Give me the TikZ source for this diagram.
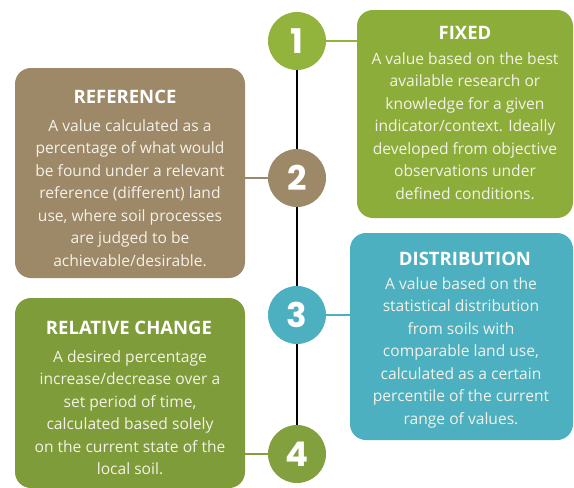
\documentclass[tikz,border=0pt]{standalone}
\usepackage{fontspec}
\setmainfont{Open Sans}
\newfontfamily\numfont{Poppins}
\definecolor{gfix}{HTML}{8DAD3B}
\definecolor{gfixc}{HTML}{93B43C}
\definecolor{brref}{HTML}{9D8867}
\definecolor{tdist}{HTML}{4CB0C0}
\definecolor{grel}{HTML}{7F9C3A}
\definecolor{grelc}{HTML}{82A03E}
\definecolor{cream}{HTML}{F4F2E8}
\tikzset{
  box/.style={rounded corners=16pt, draw=none, inner sep=0pt},
  numc/.style={circle, minimum size=58pt, inner sep=0pt, text=white, font=\numfont\fontsize{34}{34}\selectfont\bfseries},
  ttl/.style={text=white, font=\fontsize{18.5}{20}\selectfont\bfseries, inner sep=0pt},
  body/.style={text=cream, align=center, anchor=north, inner sep=0pt, font=\fontsize{15.6}{22.5}\selectfont},
  conn/.style={line width=2pt},
  spine/.style={line width=1.6pt, black}
}
\begin{document}
\begin{tikzpicture}[x=1pt,y=-1pt]
\useasboundingbox[fill=white] (0,0) rectangle (574,488);
% boxes
\node[box, fill=gfix, minimum width=216pt, minimum height=208pt] (b1) at (465,114) {};
\node[box, fill=brref, minimum width=230pt, minimum height=210pt] (b2) at (130,173) {};
\node[box, fill=tdist, minimum width=223pt, minimum height=207pt] (b3) at (461.5,336.5) {};
\node[box, fill=grel, minimum width=230pt, minimum height=190pt] (b4) at (130,393) {};
% circles
\node[numc, fill=gfixc] (c1) at (297,41) {1};
\node[numc, fill=brref] (c2) at (297,178) {2};
\node[numc, fill=tdist] (c3) at (297,315) {3};
\node[numc, fill=grelc] (c4) at (297,454) {4};
% spine
\draw[spine] (c1.south) -- (c2.north);
\draw[spine] (c2.south) -- (c3.north);
\draw[spine] (c3.south) -- (c4.north);
% connectors
\draw[conn, gfixc] (c1.east) -- (c1.east -| b1.west);
\draw[conn, brref] (c2.west) -- (c2.west -| b2.east);
\draw[conn, tdist] (c3.east) -- (c3.east -| b3.west);
\draw[conn, grelc] (c4.west) -- (c4.west -| b4.east);
% texts
\node[ttl] (t1) at (465,33) {FIXED};
\node[body] (d1) at (465,52) {A value based on the best\\available research or\\knowledge for a given\\indicator/context. Ideally\\developed from objective\\observations under\\defined conditions.};
\node[ttl] (t2) at (125,97) {REFERENCE};
\node[body] (d2) at (130,119) {A value calculated as a\\percentage of what would\\be found under a relevant\\reference (different) land\\use, where soil processes\\are judged to be\\achievable/desirable.};
\node[ttl] (t3) at (465,259) {DISTRIBUTION};
\node[body] (d3) at (461,277) {A value based on the\\statistical distribution\\from soils with\\comparable land use,\\calculated as a certain\\percentile of the current\\range of values.};
\node[ttl] (t4) at (129,328) {RELATIVE CHANGE};
\node[body] (d4) at (130,350) {A desired percentage\\increase/decrease over a\\set period of time,\\calculated based solely\\on the current state of the\\local soil.};
\end{tikzpicture}
\end{document}
